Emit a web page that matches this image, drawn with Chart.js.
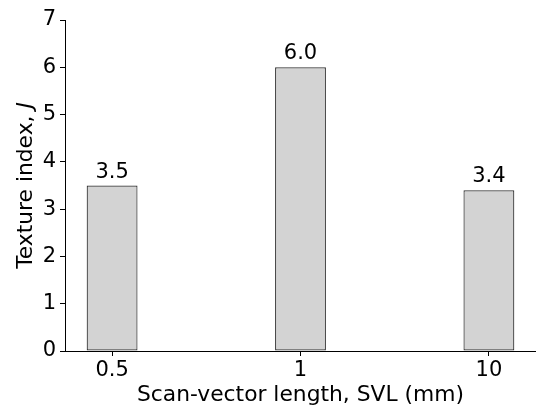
<!DOCTYPE html>
<html>
<head>
<meta charset="utf-8">
<script src="https://cdn.jsdelivr.net/npm/chart.js@4/dist/chart.umd.min.js"></script>
<style>
  html, body { margin: 0; padding: 0; background: #fff; }
  #wrap { width: 536px; height: 408px; }
</style>
</head>
<body>
<div id="wrap"><canvas id="c" width="536" height="408"></canvas></div>
<script>
// Scan-vector lengths (mm) and measured texture index J
const categories = ['0.5', '1', '10'];
const textureIndex = [3.5, 6.0, 3.4];
const yTicks = [0, 1, 2, 3, 4, 5, 6, 7];

const FONT = 'DejaVu Sans';
const FS = 21;
const TITLE_FS = 21.8;

// Values printed above each bar
const barValueLabels = {
  id: 'barValueLabels',
  afterDatasetsDraw(chart) {
    const ctx = chart.ctx;
    const meta = chart.getDatasetMeta(0);
    ctx.save();
    ctx.font = `${FS}px "${FONT}"`;
    ctx.fillStyle = '#000';
    ctx.textAlign = 'center';
    ctx.textBaseline = 'alphabetic';
    meta.data.forEach((bar, i) => {
      ctx.fillText(textureIndex[i].toFixed(1), bar.x, bar.y - 8);
    });
    ctx.restore();
  }
};

// Y-axis title with italic symbol
const yTitle = {
  id: 'yTitle',
  afterDraw(chart) {
    const ctx = chart.ctx;
    const area = chart.chartArea;
    const plain = 'Texture index, ';
    const sym = 'J';
    ctx.save();
    ctx.fillStyle = '#000';
    ctx.textBaseline = 'middle';
    ctx.translate(26, (area.top + area.bottom) / 2);
    ctx.rotate(-Math.PI / 2);
    ctx.font = `${TITLE_FS}px "${FONT}"`;
    const w1 = ctx.measureText(plain).width;
    ctx.font = `italic ${TITLE_FS}px "${FONT}"`;
    const w2 = ctx.measureText(sym).width;
    const x = -(w1 + w2) / 2;
    ctx.textAlign = 'left';
    ctx.font = `${TITLE_FS}px "${FONT}"`;
    ctx.fillText(plain, x, 0);
    ctx.font = `italic ${TITLE_FS}px "${FONT}"`;
    ctx.fillText(sym, x + w1, 0);
    ctx.restore();
  }
};

new Chart(document.getElementById('c'), {
  type: 'bar',
  data: {
    datasets: [{
      data: textureIndex.map((v, i) => ({ x: i, y: v })),
      backgroundColor: '#d3d3d3',
      borderColor: '#333333',
      borderWidth: 1.2,
      borderSkipped: false,
      categoryPercentage: 1,
      barPercentage: 0.27
    }]
  },
  options: {
    responsive: false,
    animation: false,
    events: [],
    layout: { padding: { top: 20, right: 0, left: 0, bottom: 0 } },
    plugins: { legend: { display: false }, tooltip: { enabled: false } },
    scales: {
      x: {
        type: 'linear',
        offset: false,
        min: -0.25,
        max: 2.25,
        afterBuildTicks(scale) {
          scale.ticks = categories.map((_, i) => ({ value: i }));
        },
        afterFit(scale) { scale.height = 57; },
        ticks: {
          callback: (v) => categories[v],
          color: '#000',
          font: { family: FONT, size: FS },
          padding: 2,
          maxRotation: 0
        },
        grid: { display: true, offset: false, drawOnChartArea: false, drawTicks: true, tickLength: 5, tickColor: '#000' },
        border: { display: true, color: '#000', width: 1 },
        title: {
          display: true,
          text: 'Scan-vector length, SVL (mm)',
          color: '#000',
          font: { family: FONT, size: TITLE_FS },
          padding: { top: 0, bottom: 0 }
        }
      },
      y: {
        min: 0,
        max: 7,
        afterBuildTicks(scale) {
          scale.ticks = yTicks.map(v => ({ value: v }));
        },
        afterFit(scale) { scale.width = 65; },
        ticks: {
          color: '#000',
          font: { family: FONT, size: FS },
          padding: 4
        },
        grid: { display: true, offset: false, drawOnChartArea: false, drawTicks: true, tickLength: 5, tickColor: '#000' },
        border: { display: true, color: '#000', width: 1 }
      }
    }
  },
  plugins: [barValueLabels, yTitle]
});
</script>
</body>
</html>
